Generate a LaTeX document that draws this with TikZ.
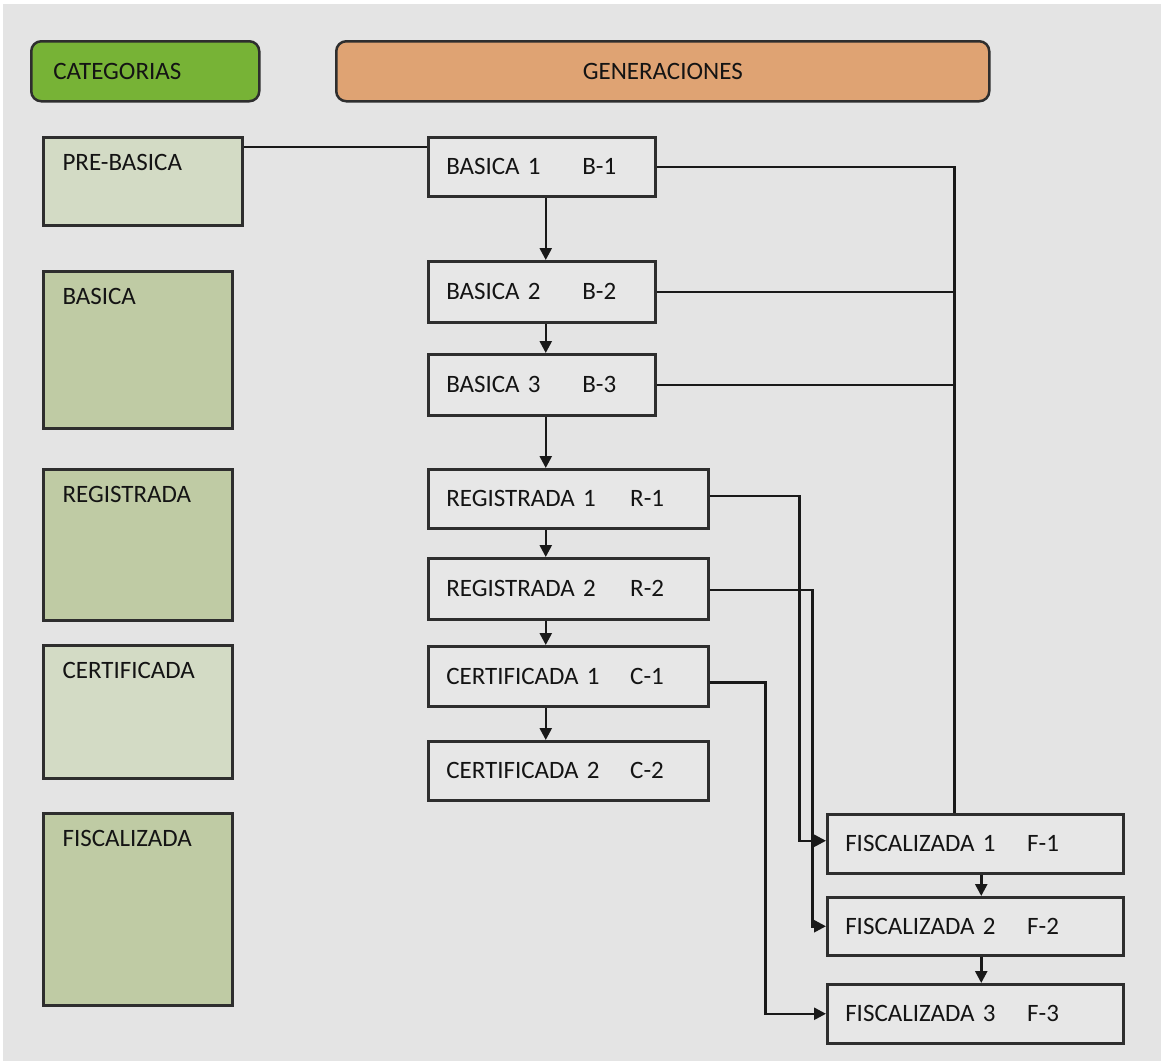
\documentclass[tikz,border=0pt]{standalone}
\usepackage{fontspec}
\setmainfont{Carlito}
\usetikzlibrary{arrows.meta}
\definecolor{bgc}{HTML}{E4E4E4}
\definecolor{catgreen}{HTML}{77B336}
\definecolor{genorange}{HTML}{DFA373}
\definecolor{lightcat}{HTML}{D3DBC5}
\definecolor{darkcat}{HTML}{BFCBA4}
\definecolor{genfill}{HTML}{E7E7E7}
\definecolor{edge}{HTML}{2E2E2E}
\tikzset{
  txt/.style={font=\fontsize{25}{29}\selectfont, text=black!92},
  hdr/.style={txt, draw=edge, line width=2.5pt, rounded corners=10pt, anchor=north west, minimum height=60pt},
  catbox/.style={draw=edge, line width=2.5pt, anchor=north west},
  catlabel/.style={label={[txt, anchor=west, xshift=17pt, yshift=-26pt]north west:#1}},
  gen/.style={txt, draw=edge, line width=2.5pt, fill=genfill, anchor=north west, align=left, inner xsep=18pt, inner ysep=0pt},
  conn/.style={line width=2.5pt, draw=black!90},
  arr/.style={conn, -{Triangle[length=12pt,width=12pt]}},
}
\begin{document}
\begin{tikzpicture}[x=1pt, y=-1pt]
\useasboundingbox (0,0) rectangle (1161,1061);
\fill[white] (0,0) rectangle (1161,1061);
\fill[bgc] (3,4) rectangle (1161,1061);

% headers
\node[hdr, fill=catgreen, minimum width=225pt, align=left, text width=184pt, inner xsep=22pt] (hcat) at (30,40) {CATEGORIAS};
\node[hdr, fill=genorange, minimum width=653pt] (hgen) at (335,40) {GENERACIONES};

% category boxes
\node[catbox, fill=lightcat, minimum width=199pt, minimum height=88pt, catlabel={PRE-BASICA}] (pre) at (42,136) {};
\node[catbox, fill=darkcat, minimum width=189pt, minimum height=157pt, catlabel={BASICA}] (bas) at (42,270) {};
\node[catbox, fill=darkcat, minimum width=189pt, minimum height=151pt, catlabel={REGISTRADA}] (reg) at (42,468) {};
\node[catbox, fill=lightcat, minimum width=189pt, minimum height=133pt, catlabel={CERTIFICADA}] (cer) at (42,644) {};
\node[catbox, fill=darkcat, minimum width=189pt, minimum height=192pt, catlabel={FISCALIZADA}] (fis) at (42,812) {};

% generation boxes
\node[gen, text width=191pt, minimum height=59pt] (b1) at (427,136) {\makebox[136pt][l]{BASICA 1}B-1};
\node[gen, text width=191pt, minimum height=61pt] (b2) at (427,260) {\makebox[136pt][l]{BASICA 2}B-2};
\node[gen, text width=191pt, minimum height=61pt] (b3) at (427,353) {\makebox[136pt][l]{BASICA 3}B-3};
\node[gen, text width=244pt, minimum height=59pt] (r1) at (427,468) {\makebox[184pt][l]{REGISTRADA 1}R-1};
\node[gen, text width=244pt, minimum height=61pt] (r2) at (427,557) {\makebox[184pt][l]{REGISTRADA 2}R-2};
\node[gen, text width=244pt, minimum height=60pt] (c1) at (427,645) {\makebox[184pt][l]{CERTIFICADA 1}C-1};
\node[gen, text width=244pt, minimum height=59pt] (c2) at (427,740) {\makebox[184pt][l]{CERTIFICADA 2}C-2};
\node[gen, text width=260pt, minimum height=59pt] (f1) at (826,813) {\makebox[182pt][l]{FISCALIZADA 1}F-1};
\node[gen, text width=260pt, minimum height=58pt] (f2) at (826,896) {\makebox[182pt][l]{FISCALIZADA 2}F-2};
\node[gen, text width=260pt, minimum height=59pt] (f3) at (826,983) {\makebox[182pt][l]{FISCALIZADA 3}F-3};

% connectors
\draw[conn] ([yshift=-11pt]pre.north east) -- ([yshift=-11pt]b1.north west);

\coordinate (spine) at ([xshift=4pt]b1.south);
\draw[arr] (spine) -- (spine |- b2.north);
\draw[arr] (spine |- b2.south) -- (spine |- b3.north);
\draw[arr] (spine |- b3.south) -- (spine |- r1.north);
\draw[arr] (spine |- r1.south) -- (spine |- r2.north);
\draw[arr] (spine |- r2.south) -- (spine |- c1.north);
\draw[arr] (spine |- c1.south) -- (spine |- c2.north);

\coordinate (bus) at ([xshift=-21pt]f1.north);
\draw[conn] (b1.east) -| (bus);
\draw[conn] (b2.east) -- (b2.east -| bus);
\draw[conn] (b3.east) -- (b3.east -| bus);

\draw[arr] ([yshift=3pt]r1.east) -- ++(90,0) |- ([yshift=3pt]f1.west);
\draw[arr] ([yshift=-1pt]r2.east) -- ++(103,0) |- (f2.west);
\draw[arr] ([yshift=-6pt]c1.east) -- ++(56,0) |- (f3.west);

\draw[arr] ([xshift=6pt]f1.south) -- ([xshift=6pt]f2.north);
\draw[arr] ([xshift=6pt]f2.south) -- ([xshift=6pt]f3.north);
\end{tikzpicture}
\end{document}
